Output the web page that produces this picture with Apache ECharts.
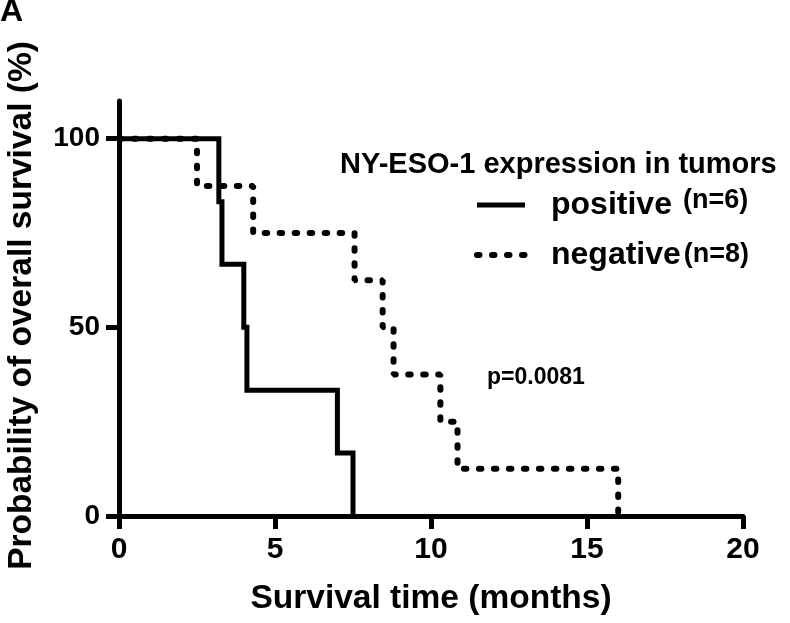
<!DOCTYPE html>
<html>
<head>
<meta charset="utf-8">
<script src="https://cdn.jsdelivr.net/npm/echarts@6/dist/echarts.min.js"></script>
<style>
html,body{margin:0;padding:0;background:#fff;}
#chart{width:790px;height:623px;}
</style>
</head>
<body>
<div id="chart"></div>
<script>
// Kaplan-Meier step data (time in months, survival %)
const positiveTimes = [0, 3.2, 3.3, 4.0, 4.1, 7.0, 7.5];
const positiveSurv  = [100, 83.3, 66.7, 50, 33.3, 16.7, 0];
const negativeTimes = [0, 2.5, 4.3, 7.55, 8.45, 8.8, 10.3, 10.85, 16.0];
const negativeSurv  = [100, 87.5, 75, 62.5, 50, 37.5, 25, 12.5, 0];
const seriesNames = ['positive', 'negative'];
const seriesN = [6, 8];
const xTicks = [0, 5, 10, 15, 20];
const yTicks = [0, 50, 100];
const legendTitle = 'NY-ESO-1 expression in tumors';
const pValueText = 'p=0.0081';
const xTitle = 'Survival time (months)';
const yTitle = 'Probability of overall survival (%)';
const panelLabel = 'A';

const FONT = '"Liberation Sans", Arial, sans-serif';
const chart = echarts.init(document.getElementById('chart'), null, {renderer: 'canvas'});

const pos = positiveTimes.map((t, i) => [t, positiveSurv[i]]);
const neg = negativeTimes.map((t, i) => [t, negativeSurv[i]]);
const dotted = [2.5, 12.5];
const hiddenSymbol = {opacity: 0, color: 'transparent', borderColor: 'transparent', borderWidth: 0};

const option = {
  animation: false,
  backgroundColor: '#fff',
  textStyle: {fontFamily: FONT},
  grid: {left: 119, right: 47, top: 101, bottom: 107, containLabel: false, outerBoundsMode: 'none'},
  title: {
    text: legendTitle,
    left: 335, top: 145,
    textStyle: {fontFamily: FONT, fontWeight: 'bold', fontSize: 29, color: '#000'}
  },
  legend: {
    orient: 'vertical',
    left: 469, top: 182,
    itemWidth: 48, itemHeight: 14,
    itemGap: 16,
    data: [
      {name: seriesNames[0], itemStyle: hiddenSymbol, lineStyle: {width: 5, type: 'solid', color: '#000', opacity: 1}},
      {name: seriesNames[1], itemStyle: hiddenSymbol, lineStyle: {width: 6, type: dotted, cap: 'round', color: '#000', opacity: 1}}
    ],
    formatter: function (name) {
      const i = seriesNames.indexOf(name);
      return '{a|' + name + '}{b' + i + '|(n=' + seriesN[i] + ')}';
    },
    textStyle: {
      color: '#000',
      rich: {
        a: {fontFamily: FONT, fontWeight: 'bold', fontSize: 32, lineHeight: 36, padding: [0, 0, 0, 21], color: '#000'},
        b0: {fontFamily: FONT, fontWeight: 'bold', fontSize: 27, lineHeight: 36, verticalAlign: 'top', padding: [0, 0, 0, 11], color: '#000'},
        b1: {fontFamily: FONT, fontWeight: 'bold', fontSize: 27, lineHeight: 36, verticalAlign: 'top', padding: [4, 0, 0, 3], color: '#000'}
      }
    }
  },
  xAxis: {
    type: 'value',
    min: 0, max: 20, interval: 5,
    name: xTitle,
    nameLocation: 'middle',
    nameGap: 66,
    nameTextStyle: {fontFamily: FONT, fontWeight: 'bold', fontSize: 33.5, color: '#000'},
    axisLine: {show: true, onZero: false, lineStyle: {color: '#000', width: 5}},
    axisTick: {show: true, length: 13, lineStyle: {color: '#000', width: 5}, customValues: xTicks},
    axisLabel: {margin: 19, fontFamily: FONT, fontWeight: 'bold', fontSize: 30, color: '#000', customValues: xTicks},
    splitLine: {show: false}
  },
  yAxis: {
    type: 'value',
    min: 0, max: 110,
    name: yTitle,
    nameLocation: 'middle',
    nameRotate: 90,
    nameGap: 80,
    nameTextStyle: {fontFamily: FONT, fontWeight: 'bold', fontSize: 33.5, color: '#000', padding: [0, 0, 0, 6]},
    axisLine: {show: true, onZero: false, lineStyle: {color: '#000', width: 5}},
    axisTick: {show: true, length: 13, lineStyle: {color: '#000', width: 5}, customValues: yTicks},
    axisLabel: {margin: 19, fontFamily: FONT, fontWeight: 'bold', fontSize: 28, color: '#000', customValues: yTicks},
    splitLine: {show: false}
  },
  series: [
    {
      name: seriesNames[1], type: 'line', step: 'end', data: neg,
      showSymbol: false, symbol: 'none', z: 2,
      lineStyle: {color: '#000', width: 6, type: dotted, cap: 'round'},
      itemStyle: {color: '#000'}
    },
    {
      name: seriesNames[0], type: 'line', step: 'end', data: pos,
      showSymbol: false, symbol: 'none', z: 3,
      lineStyle: {color: '#000', width: 5, type: 'solid', join: 'miter'},
      itemStyle: {color: '#000'}
    }
  ],
  graphic: [
    {type: 'text', left: 0, top: -4, style: {text: panelLabel, font: 'bold 32px ' + FONT, fill: '#000'}},
    {type: 'text', left: 487, top: 366, style: {text: pValueText, font: 'bold 23px ' + FONT, fill: '#000'}}
  ]
};
chart.setOption(option);
</script>
</body>
</html>
